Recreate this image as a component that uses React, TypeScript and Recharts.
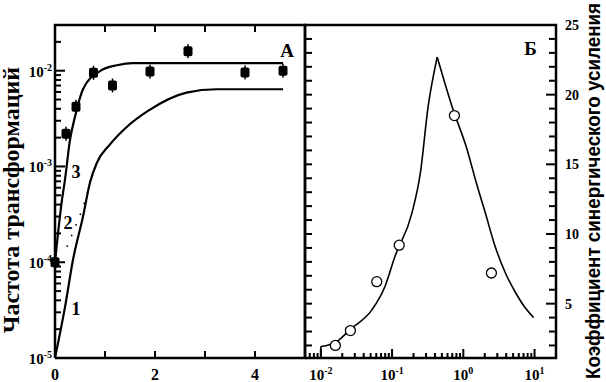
import { ComposedChart, Line, Scatter, XAxis, YAxis, ReferenceDot } from "recharts";

// Panel A — transformation frequency (log) vs dose
const aSquareX = [0, 0.22, 0.42, 0.77, 1.15, 1.9, 2.66, 3.8, 4.56];
const aSquareY = [1.0e-4, 2.2e-3, 4.2e-3, 9.5e-3, 7.0e-3, 9.8e-3, 1.6e-2, 9.6e-3, 1.0e-2];

const curve1X = [0, 0.2, 0.36, 0.56, 0.7, 0.84, 1.1, 1.44, 1.86, 2.63, 3.23, 4.56];
const curve1Y = [1e-5, 3.4e-5, 1.06e-4, 3.0e-4, 6.8e-4, 1.1e-3, 1.7e-3, 2.6e-3, 3.8e-3, 5.9e-3, 6.4e-3, 6.4e-3];

const curve2X = [0.24, 0.44, 0.54, 0.74];
const curve2Y = [1.45e-4, 2.6e-4, 3.5e-4, 8.3e-4];

const curve3X = [0, 0.14, 0.2, 0.3, 0.4, 0.56, 0.9, 1.24, 1.56, 4.56];
const curve3Y = [1e-4, 4.5e-4, 7.3e-4, 1.9e-3, 3.3e-3, 6.4e-3, 9.9e-3, 1.14e-2, 1.2e-2, 1.2e-2];

// Panel Б — synergy coefficient vs ratio (log x)
const bCircleX = [0.016, 0.026, 0.061, 0.126, 0.75, 2.48];
const bCircleY = [2.0, 3.07, 6.58, 9.2, 18.5, 7.2];

const bStartX = [0.01, 0.01];
const bStartY = [1.1, 1.92];

const bRiseX = [0.01, 0.0168, 0.0257, 0.0524, 0.079, 0.11, 0.19, 0.25, 0.32, 0.43];
const bRiseY = [1.92, 2.28, 3.14, 4.57, 6.2, 8.4, 11.5, 14.4, 19.1, 22.7];

const bFallX = [0.43, 0.7, 1.14, 1.48, 2.04, 2.8, 3.9, 5.4, 7.4, 9.7];
const bFallY = [22.7, 19.1, 16.0, 13.9, 11.5, 9.1, 7.2, 5.8, 4.7, 4.0];

// axes
const aXMin = 0;
const aXMax = 5;
const aXTicks = [0, 1, 2, 3, 4, 5];
const aXLabels = [0, 2, 4];
const aYDecades = [1e-5, 1e-4, 1e-3, 1e-2];
const logMults = [1, 2, 3, 4, 5, 6, 7, 8, 9];
const aYMin = 1e-5;
const aYMax = 3e-2;

const bXDecades = [0.001, 0.01, 0.1, 1, 10];
const bXMin = 0.006;
const bXMax = 20;
const bYMin = 1.1;
const bYMax = 25;
const bYTicks = [2, 3, 4, 5, 6, 7, 8, 9, 10, 11, 12, 13, 14, 15, 16, 17, 18, 19, 20, 21, 22, 23, 24, 25];
const bYLabels = [5, 10, 15, 20, 25];

// annotations: [text, x, y]
const aNotes: [string, number, number][] = [
  ["А", 4.64, 1.64e-2],
  ["1", 0.42, 3.3e-5],
  ["2", 0.26, 2.6e-4],
  ["3", 0.42, 8.9e-4],
];
const bNotes: [string, number, number][] = [["Б", 8.8, 23.35]];

const zip = (xs: number[], ys: number[]) => xs.map((x, i) => ({ x, y: ys[i] }));
const frame = (x0: number, x1: number, y0: number, y1: number) => zip([x0, x0, x1, x1, x0], [y0, y1, y1, y0, y0]);

const aYTicks = aYDecades
  .flatMap((d) => logMults.map((m) => d * m))
  .filter((v) => v < aYMax * 0.999);
const bXTicks = bXDecades
  .flatMap((d) => logMults.map((m) => d * m))
  .filter((v) => v > bXMin * 1.001 && v < bXMax * 0.999);

const aXInner = aXTicks.filter((v) => v > aXMin && v < aXMax);
const aYInner = aYTicks.filter((v) => v > aYMin * 1.001);
const bYInner = bYTicks.filter((v) => v < bYMax);

const isDecade = (v: number) => Math.abs(Math.log10(v) - Math.round(Math.log10(v))) < 1e-6;

// layout
const W = 606;
const H = 382;
const PLOT_LEFT = 55;
const RIGHT_AXIS = 50;
const PANEL_A_W = 250;
const PANEL_B_W = W - PLOT_LEFT - RIGHT_AXIS - PANEL_A_W;
const TICK_OFF = 8; // tickSize 6 + tickMargin 2

const serif = "'Liberation Serif', 'Times New Roman', serif";
const numStyle = { fontFamily: serif, fontWeight: 700, fill: "#000" } as const;

function Pow10({ x, y, exp, anchor }: { x: number; y: number; exp: number; anchor: "end" | "middle" }) {
  return (
    <text x={x} y={y} textAnchor={anchor} fontSize={15} style={numStyle}>
      10
      <tspan dy={-6} fontSize={10}>
        {exp}
      </tspan>
    </text>
  );
}

// tick labels come from the axes
const aBottomLabel = (p: any) => {
  const v = p.payload.value;
  if (!aXLabels.includes(v)) return <g />;
  return (
    <text x={p.x} y={p.y - TICK_OFF + 22} textAnchor="middle" fontSize={16} style={numStyle}>
      {v}
    </text>
  );
};

const aLeftLabel = (p: any) => {
  const v = p.payload.value;
  if (!isDecade(v)) return <g />;
  return <Pow10 x={p.x + TICK_OFF - 3} y={p.y + 6} exp={Math.round(Math.log10(v))} anchor="end" />;
};

const bBottomLabel = (p: any) => {
  const v = p.payload.value;
  if (!isDecade(v)) return <g />;
  return <Pow10 x={p.x} y={p.y - TICK_OFF + 21} exp={Math.round(Math.log10(v))} anchor="middle" />;
};

const bRightLabel = (p: any) => {
  const v = p.payload.value;
  if (!bYLabels.includes(v)) return <g />;
  return (
    <text x={p.x - TICK_OFF + 9} y={p.y + 5} textAnchor="start" fontSize={14} style={numStyle}>
      {v}
    </text>
  );
};

// inner tick marks, placed on the axis edges through the chart scales
const vTick = (len: (v: number) => number) => (p: any) => {
  const l = len(p.payload.x);
  return <rect x={p.cx - 1} y={l > 0 ? p.cy : p.cy + l} width={2} height={Math.abs(l)} fill="#000" />;
};
const hTick = (len: (v: number) => number) => (p: any) => {
  const l = len(p.payload.y);
  return <rect x={l > 0 ? p.cx : p.cx + l} y={p.cy - 1} width={Math.abs(l)} height={2} fill="#000" />;
};

const LeftTitle = () => (
  <text transform="rotate(-90)" x={-200} y={19} textAnchor="middle" fontSize={24} style={numStyle}>
    Частота трансформаций
  </text>
);

const RightTitle = () => (
  <text
    transform="rotate(-90)"
    x={-191}
    y={600}
    textAnchor="middle"
    fontSize={20}
    textLength={376}
    lengthAdjust="spacingAndGlyphs"
    style={{ fontFamily: "'Liberation Sans', Arial, sans-serif", fontWeight: 700, fill: "#000" }}
  >
    Коэффициент синергического усиления
  </text>
);

const NoteText = (p: any) => {
  const vb = p.viewBox || { x: 0, y: 0, width: 0, height: 0 };
  const size = p.text === "А" || p.text === "Б" ? 19 : 18;
  return (
    <text x={vb.x + vb.width / 2} y={vb.y + vb.height / 2 + size * 0.35} textAnchor="middle" fontSize={size} style={numStyle}>
      {p.text}
    </text>
  );
};

const SquareMark = (p: any) => (
  <g>
    <rect x={p.cx - 0.75} y={p.cy - 7} width={1.5} height={14} fill="#000" />
    <rect x={p.cx - 4.5} y={p.cy - 5} width={9} height={10} rx={2} fill="#000" />
  </g>
);

const CircleMark = (p: any) => (
  <circle cx={p.cx} cy={p.cy} r={5} fill="#fff" stroke="#000" strokeWidth={1.3} />
);

const axisBase = {
  interval: 0 as const,
  tickSize: 6,
  tickMargin: 2,
  tickLine: false,
  axisLine: false,
};

const lineBase = { type: "linear" as const, stroke: "#000", dot: false, isAnimationActive: false };

export default function App() {
  return (
    <div style={{ position: "absolute", left: 0, top: 0, width: W, height: H, background: "#fff" }}>
      <ComposedChart width={W} height={H} margin={{ top: 24, right: 0, bottom: 0, left: 0 }}>
        <XAxis {...axisBase} xAxisId="a" dataKey="x" type="number" domain={[aXMin, aXMax]} ticks={aXTicks} tick={aBottomLabel} height={1} padding={{ left: 0, right: PANEL_B_W }} />
        <XAxis {...axisBase} xAxisId="b" dataKey="x" type="number" scale="log" domain={[bXMin, bXMax]} ticks={bXTicks} tick={bBottomLabel} height={23} padding={{ left: PANEL_A_W, right: 0 }} />
        <XAxis {...axisBase} xAxisId="at" orientation="top" dataKey="x" type="number" domain={[aXMin, aXMax]} ticks={aXTicks} tick={false} height={1} padding={{ left: 0, right: PANEL_B_W }} />
        <YAxis {...axisBase} yAxisId="a" type="number" scale="log" domain={[aYMin, aYMax]} ticks={aYTicks} tick={aLeftLabel} width={PLOT_LEFT} label={<LeftTitle />} />
        <YAxis {...axisBase} yAxisId="b" orientation="right" type="number" domain={[bYMin, bYMax]} ticks={bYTicks} tick={bRightLabel} width={RIGHT_AXIS} label={<RightTitle />} />

        {/* panel frames */}
        <Line {...lineBase} xAxisId="a" yAxisId="a" data={frame(aXMin, aXMax, aYMin, aYMax)} dataKey="y" strokeWidth={2.5} />
        <Line {...lineBase} xAxisId="b" yAxisId="b" data={frame(bXMin, bXMax, bYMin, bYMax)} dataKey="y" strokeWidth={2.5} />

        {/* inner tick marks */}
        <Scatter xAxisId="a" yAxisId="a" data={aXInner.map((x) => ({ x, y: aYMin }))} dataKey="y" shape={vTick(() => -7)} isAnimationActive={false} />
        <Scatter xAxisId="a" yAxisId="a" data={aXInner.map((x) => ({ x, y: aYMax }))} dataKey="y" shape={vTick(() => 7)} isAnimationActive={false} />
        <Scatter xAxisId="a" yAxisId="a" data={aYInner.map((y) => ({ x: aXMin, y }))} dataKey="y" shape={hTick((v) => (isDecade(v) ? 10 : 6))} isAnimationActive={false} />
        <Scatter xAxisId="b" yAxisId="b" data={bXTicks.map((x) => ({ x, y: bYMin }))} dataKey="y" shape={vTick((v) => (isDecade(v) ? -9 : -5))} isAnimationActive={false} />
        <Scatter xAxisId="b" yAxisId="b" data={bYInner.map((y) => ({ x: bXMin, y }))} dataKey="y" shape={hTick(() => 7)} isAnimationActive={false} />
        <Scatter xAxisId="b" yAxisId="b" data={bYInner.map((y) => ({ x: bXMax, y }))} dataKey="y" shape={hTick((v) => (bYLabels.includes(v) ? -10 : -7))} isAnimationActive={false} />

        {/* panel A */}
        <Line {...lineBase} xAxisId="a" yAxisId="a" data={zip(curve1X, curve1Y)} dataKey="y" type="monotone" strokeWidth={2.2} />
        <Line {...lineBase} xAxisId="a" yAxisId="a" data={zip(curve2X, curve2Y)} dataKey="y" type="monotone" strokeWidth={1.6} strokeDasharray="1.5 10" />
        <Line {...lineBase} xAxisId="a" yAxisId="a" data={zip(curve3X, curve3Y)} dataKey="y" type="monotone" strokeWidth={2.2} />
        <Scatter xAxisId="a" yAxisId="a" data={zip(aSquareX, aSquareY)} dataKey="y" shape={SquareMark} isAnimationActive={false} />

        {/* panel Б */}
        <Line {...lineBase} xAxisId="b" yAxisId="b" data={zip(bStartX, bStartY)} dataKey="y" strokeWidth={1.6} />
        <Line {...lineBase} xAxisId="b" yAxisId="b" data={zip(bRiseX, bRiseY)} dataKey="y" type="monotone" strokeWidth={1.6} />
        <Line {...lineBase} xAxisId="b" yAxisId="b" data={zip(bFallX, bFallY)} dataKey="y" type="monotone" strokeWidth={1.6} />
        <Scatter xAxisId="b" yAxisId="b" data={zip(bCircleX, bCircleY)} dataKey="y" shape={CircleMark} isAnimationActive={false} />

        {aNotes.map(([t, x, y]) => (
          <ReferenceDot key={t} xAxisId="a" yAxisId="a" x={x} y={y} r={0.01} fill="none" stroke="none" label={<NoteText text={t} />} />
        ))}
        {bNotes.map(([t, x, y]) => (
          <ReferenceDot key={t} xAxisId="b" yAxisId="b" x={x} y={y} r={0.01} fill="none" stroke="none" label={<NoteText text={t} />} />
        ))}
      </ComposedChart>
    </div>
  );
}
